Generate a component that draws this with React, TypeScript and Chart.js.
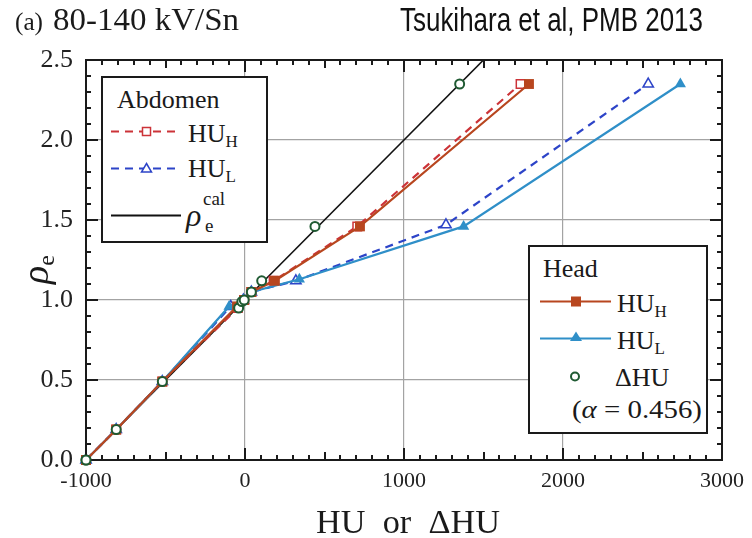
import React, { useEffect, useRef, useState } from "react";
import { Chart, registerables } from "chart.js";

Chart.register(...registerables);

// ---- data ----
const headHUH_x = [-1000, -810, -520, -50, -5, 40, 188, 723, 1786];
const headHUH_y = [0, 0.19, 0.49, 0.96, 1.0, 1.05, 1.12, 1.46, 2.35];

const headHUL_x = [-1000, -810, -520, -100, -10, 40, 342, 1375, 2738];
const headHUL_y = [0, 0.19, 0.49, 0.96, 1.0, 1.05, 1.13, 1.46, 2.35];

const abdHUH_x = [-1000, -810, -520, -45, -5, 40, 180, 706, 1733];
const abdHUH_y = [0, 0.19, 0.49, 0.95, 1.0, 1.05, 1.12, 1.46, 2.35];

const abdHUL_x = [-1000, -810, -520, -90, -10, 40, 320, 1264, 2536];
const abdHUL_y = [0, 0.19, 0.49, 0.96, 1.0, 1.05, 1.12, 1.47, 2.35];

const deltaHU_x = [-1000, -810, -520, -40, -20, -5, 40, 105, 440, 1350];
const deltaHU_y = [0, 0.19, 0.49, 0.95, 0.99, 1.0, 1.05, 1.12, 1.46, 2.35];

const rhoCal_x = [-1000, 0, 1500];
const rhoCal_y = [0, 1.0, 2.5];

const X_MIN = -1000;
const X_MAX = 3000;
const Y_MIN = 0;
const Y_MAX = 2.5;
const xMajorGrid = [0, 1000, 2000];
const yMajorGrid = [0.5, 1.0, 1.5, 2.0];

const pts = (xs: number[], ys: number[]) => xs.map((x, i) => ({ x, y: ys[i] }));

const C_HEAD_H = "#b8461f";
const C_HEAD_L = "#2f8fc8";
const C_ABD_H = "#cc3338";
const C_ABD_L = "#2d44c8";
const C_GREEN = "#1f5a32";
const SERIF = "'Liberation Serif', 'DejaVu Serif', serif";

type Area = { left: number; right: number; top: number; bottom: number };

function ChartCanvas({ onReady }: { onReady: (a: Area) => void }) {
  const ref = useRef<HTMLCanvasElement | null>(null);
  useEffect(() => {
    if (!ref.current) return;
    const chart: any = new Chart(ref.current, {
      type: "line",
      data: {
        datasets: [
          {
            label: "ΔHU",
            data: pts(deltaHU_x, deltaHU_y),
            showLine: false,
            pointStyle: "circle",
            pointRadius: 4.5,
            pointBorderWidth: 2,
            pointBorderColor: C_GREEN,
            pointBackgroundColor: "#ffffff",
            borderColor: C_GREEN,
            clip: 10,
            order: 0,
          },
          {
            label: "Head HU_H",
            data: pts(headHUH_x, headHUH_y),
            borderColor: C_HEAD_H,
            borderWidth: 2.2,
            pointStyle: "rect",
            pointRadius: 7,
            pointBorderWidth: 0,
            pointBackgroundColor: C_HEAD_H,
            tension: 0,
            clip: 10,
            order: 1,
          },
          {
            label: "Head HU_L",
            data: pts(headHUL_x, headHUL_y),
            borderColor: C_HEAD_L,
            borderWidth: 2.2,
            pointStyle: "triangle",
            pointRadius: 6.5,
            pointBorderWidth: 0,
            pointBackgroundColor: C_HEAD_L,
            tension: 0,
            clip: 10,
            order: 2,
          },
          {
            label: "Abdomen HU_H",
            data: pts(abdHUH_x, abdHUH_y),
            borderColor: C_ABD_H,
            borderWidth: 2.2,
            borderDash: [8, 6],
            pointStyle: "rect",
            pointRadius: 6,
            pointBorderWidth: 1.5,
            pointBorderColor: C_ABD_H,
            pointBackgroundColor: "#ffffff",
            tension: 0,
            clip: 10,
            order: 3,
          },
          {
            label: "Abdomen HU_L",
            data: pts(abdHUL_x, abdHUL_y),
            borderColor: C_ABD_L,
            borderWidth: 2.2,
            borderDash: [8, 6],
            pointStyle: "triangle",
            pointRadius: 6,
            pointBorderWidth: 1.5,
            pointBorderColor: C_ABD_L,
            pointBackgroundColor: "#ffffff",
            tension: 0,
            clip: 10,
            order: 4,
          },
          {
            label: "rho cal",
            data: pts(rhoCal_x, rhoCal_y),
            borderColor: "#111111",
            borderWidth: 1.6,
            pointRadius: 0,
            tension: 0,
            order: 5,
          },
        ],
      },
      options: {
        responsive: false,
        animation: false,
        layout: { padding: { top: 60, right: 26, left: 0, bottom: 0 } },
        plugins: { legend: { display: false }, tooltip: { enabled: false } },
        scales: {
          x: {
            type: "linear",
            min: X_MIN,
            max: X_MAX,
            afterFit: (s: any) => {
              s.height = 78;
            },
            ticks: {
              stepSize: 1000,
              autoSkip: false,
              maxRotation: 0,
              padding: 8,
              color: "#222",
              font: { family: SERIF, size: 22 },
              callback: (v: any) => String(v),
            },
            grid: {
              drawTicks: false,
              lineWidth: 1.2,
              color: (c: any) => (xMajorGrid.includes(c.tick?.value) ? "#a3a3a3" : "rgba(0,0,0,0)"),
            },
            border: { display: false },
          },
          y: {
            type: "linear",
            min: Y_MIN,
            max: Y_MAX,
            afterFit: (s: any) => {
              s.width = 86;
            },
            ticks: {
              stepSize: 0.5,
              autoSkip: false,
              padding: 13,
              color: "#222",
              font: { family: SERIF, size: 26 },
              callback: (v: any) => Number(v).toFixed(1),
            },
            grid: {
              drawTicks: false,
              lineWidth: 1.2,
              color: (c: any) =>
                yMajorGrid.some((g) => Math.abs(g - c.tick?.value) < 1e-6) ? "#a3a3a3" : "rgba(0,0,0,0)",
            },
            border: { display: false },
          },
        },
      },
    } as any);
    const a = chart.chartArea;
    onReady({ left: a.left, right: a.right, top: a.top, bottom: a.bottom });
    return () => chart.destroy();
  }, []);
  return <canvas ref={ref} width={752} height={538} style={{ position: "absolute", left: 0, top: 0 }} />;
}

// inward tick marks on all four sides of the plot frame
function Frame({ area }: { area: Area | null }) {
  if (!area) return null;
  const left = area.left;
  const right = area.right;
  const top = area.top;
  const bottom = area.bottom;
  const w = right - left;
  const h = bottom - top;
  const marks: any[] = [];
  const nx = (X_MAX - X_MIN) / 100;
  for (let k = 0; k <= nx; k++) {
    const i = X_MIN / 100 + k;
    const p = Math.round(left + (k / nx) * w);
    const len = i % 10 === 0 ? 12 : i % 5 === 0 ? 8 : 5;
    marks.push(<rect key={"xb" + k} x={p - 1} y={bottom - len} width={2} height={len} />);
    marks.push(<rect key={"xt" + k} x={p - 1} y={top} width={2} height={len} />);
  }
  const ny = Math.round((Y_MAX - Y_MIN) * 10);
  for (let k = 0; k <= ny; k++) {
    const p = Math.round(bottom - (k / ny) * h);
    const len = k % 5 === 0 ? 12 : 5;
    marks.push(<rect key={"yl" + k} x={left} y={p - 1} width={len} height={2} />);
    marks.push(<rect key={"yr" + k} x={right - len} y={p - 1} width={len} height={2} />);
  }
  return (
    <g>
      <g fill="#1a1a1a">{marks}</g>
      <rect x={left} y={top} width={w} height={h} fill="none" stroke="#1a1a1a" strokeWidth={2} />
      <circle cx={left} cy={bottom} r={4.5} fill="#fff" stroke={C_GREEN} strokeWidth={2} />
    </g>
  );
}

function Overlay({ area }: { area: Area | null }) {
  const t = { fontFamily: SERIF, fill: "#1a1a1a" } as any;
  return (
    <svg
      width={752}
      height={538}
      style={{ position: "absolute", left: 0, top: 0, pointerEvents: "none" }}
    >
      <Frame area={area} />
      {/* titles */}
      <text x={15} y={30} fontSize={25} textLength={28} lengthAdjust="spacingAndGlyphs" {...t}>
        (a)
      </text>
      <text x={53} y={30} fontSize={32} textLength={186} lengthAdjust="spacingAndGlyphs" {...t}>
        80-140 kV/Sn
      </text>
      <text
        x={400}
        y={31}
        fontSize={33}
        textLength={303}
        lengthAdjust="spacingAndGlyphs"
        fontFamily="'Liberation Sans', Arial, sans-serif"
        fill="#111"
      >
        Tsukihara et al, PMB 2013
      </text>

      {/* axis titles */}
      <text x={316} y={533} fontSize={33} textLength={184} lengthAdjust="spacingAndGlyphs" {...t} xmlSpace="preserve">
        HU  or  ΔHU
      </text>
      <g transform="translate(48,284) rotate(-90)">
        <text x={0} y={0} fontSize={38} fontStyle="italic" {...t}>
          ρ
          <tspan fontSize={24} fontStyle="normal" dy={6}>
            e
          </tspan>
        </text>
      </g>

      {/* Abdomen legend */}
      <rect x={102} y={77} width={165} height={165} fill="#ffffff" stroke="#1a1a1a" strokeWidth={2} />
      <text x={117} y={108} fontSize={26} {...t}>
        Abdomen
      </text>
      <line x1={111} y1={131.5} x2={177} y2={131.5} stroke={C_ABD_H} strokeWidth={2} strokeDasharray="8 6" />
      <rect x={142.5} y={127.5} width={8} height={8} fill="#fff" stroke={C_ABD_H} strokeWidth={1.5} />
      <text x={188} y={142} fontSize={26} {...t}>
        HU
        <tspan fontSize={17} dy={5}>
          H
        </tspan>
      </text>
      <line x1={111} y1={168.5} x2={177} y2={168.5} stroke={C_ABD_L} strokeWidth={2} strokeDasharray="8 6" />
      <polygon points="146.5,163.5 151.5,172 141.5,172" fill="#fff" stroke={C_ABD_L} strokeWidth={1.5} />
      <text x={188} y={177} fontSize={26} {...t}>
        HU
        <tspan fontSize={17} dy={5}>
          L
        </tspan>
      </text>
      <line x1={111} y1={215.5} x2={181} y2={215.5} stroke="#111" strokeWidth={1.8} />
      <text x={186} y={226} fontSize={32} fontStyle="italic" {...t}>
        ρ
      </text>
      <text x={205} y={232} fontSize={19} {...t}>
        e
      </text>
      <text x={203} y={205} fontSize={19} {...t}>
        cal
      </text>

      {/* Head legend */}
      <rect x={529} y={246} width={178} height={187} fill="#ffffff" stroke="#1a1a1a" strokeWidth={2} />
      <text x={543} y={277} fontSize={26} {...t}>
        Head
      </text>
      <line x1={540} y1={301.5} x2={611} y2={301.5} stroke={C_HEAD_H} strokeWidth={2.2} />
      <rect x={571} y={296.5} width={10} height={10} fill={C_HEAD_H} />
      <text x={617} y={312} fontSize={26} {...t}>
        HU
        <tspan fontSize={17} dy={5}>
          H
        </tspan>
      </text>
      <line x1={540} y1={338.5} x2={611} y2={338.5} stroke={C_HEAD_L} strokeWidth={2.2} />
      <polygon points="576,331.5 582,341 570,341" fill={C_HEAD_L} />
      <text x={617} y={349} fontSize={26} {...t}>
        HU
        <tspan fontSize={17} dy={5}>
          L
        </tspan>
      </text>
      <circle cx={575} cy={376.5} r={4} fill="#fff" stroke={C_GREEN} strokeWidth={2} />
      <text x={615} y={386} fontSize={26} {...t}>
        ΔHU
      </text>
      <text x={572} y={418} fontSize={26} textLength={130} lengthAdjust="spacingAndGlyphs" {...t}>
        (
        <tspan fontStyle="italic">α</tspan> = 0.456)
      </text>
    </svg>
  );
}

export default function App() {
  const [area, setArea] = useState<Area | null>(null);
  return (
    <div
      style={{
        position: "fixed",
        left: 0,
        top: 0,
        width: 752,
        height: 538,
        background: "#ffffff",
        overflow: "hidden",
      }}
    >
      <ChartCanvas onReady={setArea} />
      <Overlay area={area} />
    </div>
  );
}
